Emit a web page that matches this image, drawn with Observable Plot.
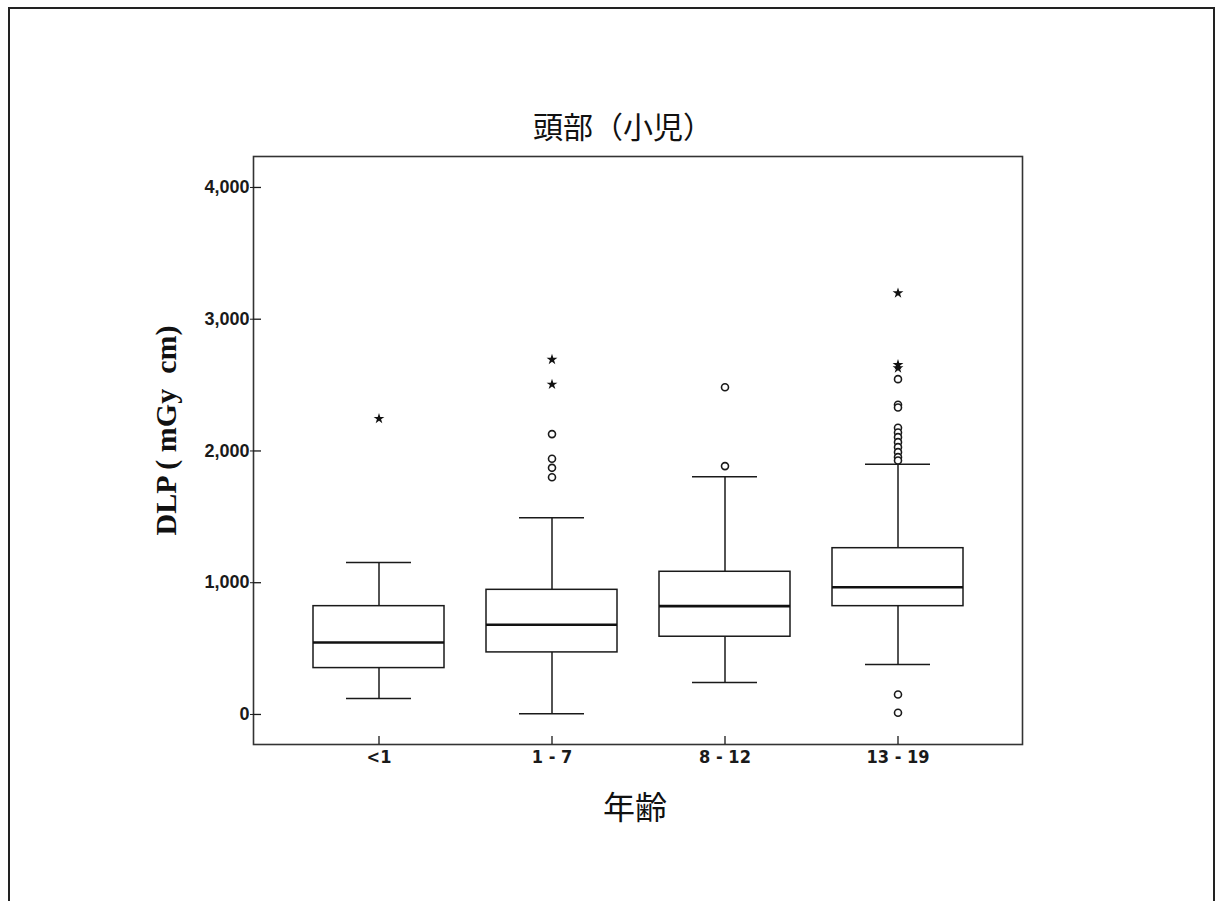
<!DOCTYPE html>
<html><head><meta charset="utf-8">
<script src="https://cdn.jsdelivr.net/npm/d3@7"></script>
<script src="https://cdn.jsdelivr.net/npm/@observablehq/plot@0.6"></script>
<style>
html,body{margin:0;padding:0;background:#fff;overflow:hidden;width:1215px;height:901px}
#chart{position:absolute;left:0;top:0}
#border{position:absolute;left:8px;top:7px;width:1203px;height:1000px;border:2px solid #222;border-bottom:none;pointer-events:none}
</style></head><body>
<div id="chart"></div><div id="border"></div>
<script>
const titleText = "頭部（小児）";
const yLabel = "DLP ( mGy  cm)";
const xLabel = "年齢";
const categories = ["<1", "1 - 7", "8 - 12", "13 - 19"];
const q1 = [352, 471, 590, 822];
const median = [546, 681, 822, 966];
const q3 = [822, 946, 1083, 1262];
const whiskerLow = [121, 5, 243, 380];
const whiskerHigh = [1154, 1493, 1804, 1900];
const yTicks = [0, 1000, 2000, 3000, 4000];
// outliers (circles) and extreme values (stars)
const circleGroup = ["1 - 7","1 - 7","1 - 7","1 - 7","8 - 12","8 - 12",
  "13 - 19","13 - 19","13 - 19","13 - 19","13 - 19","13 - 19","13 - 19","13 - 19","13 - 19","13 - 19","13 - 19","13 - 19","13 - 19"];
const circleValue = [2128, 1941, 1872, 1801, 2484, 1885,
  2545, 2351, 2330, 2176, 2140, 2105, 2067, 2029, 1991, 1953, 1928, 152, 13];
const starGroup = ["<1", "1 - 7", "1 - 7", "13 - 19", "13 - 19", "13 - 19"];
const starValue = [2245, 2694, 2505, 3198, 2654, 2629];

const boxes = categories.map((c, i) => ({group: c, q1: q1[i], med: median[i], q3: q3[i], lo: whiskerLow[i], hi: whiskerHigh[i]}));
const circles = circleGroup.map((g, i) => ({group: g, value: circleValue[i]}));
const stars = starGroup.map((g, i) => ({group: g, value: starValue[i]}));

const ink = "#1a1a1a";
const plot = Plot.plot({
  width: 1215, height: 901,
  marginLeft: 253, marginRight: 193, marginTop: 156, marginBottom: 157,
  style: {background: "transparent", color: ink, fontFamily: "Liberation Sans, Arial, sans-serif"},
  x: {type: "band", domain: categories, paddingInner: 0.243, paddingOuter: 0.344, label: null},
  y: {domain: [-228, 4235], label: null},
  marks: [
    Plot.frame({stroke: "#333", strokeWidth: 1.6}),
    Plot.ruleX(boxes, {x: "group", y1: "q3", y2: "hi", stroke: ink, strokeWidth: 1.5}),
    Plot.ruleX(boxes, {x: "group", y1: "lo", y2: "q1", stroke: ink, strokeWidth: 1.5}),
    Plot.tickY(boxes, {x: "group", y: "hi", insetLeft: 33, insetRight: 33, stroke: ink, strokeWidth: 1.5}),
    Plot.tickY(boxes, {x: "group", y: "lo", insetLeft: 33, insetRight: 33, stroke: ink, strokeWidth: 1.5}),
    Plot.barY(boxes, {x: "group", y1: "q1", y2: "q3", fill: "white", stroke: ink, strokeWidth: 1.5}),
    Plot.tickY(boxes, {x: "group", y: "med", stroke: "#111", strokeWidth: 2.6}),
    Plot.dot(circles, {x: "group", y: "value", r: 3.5, stroke: ink, strokeWidth: 1.6, fill: "white"}),
    Plot.dot(stars, {x: "group", y: "value", symbol: "star", r: 3.4, fill: "#111", stroke: "none"}),
    Plot.axisY({ticks: yTicks, tickFormat: d3.format(","), tickSize: 3, tickPadding: 1, fontSize: 18, fontWeight: "bold", label: null, stroke: ink}),
    Plot.tickY(yTicks, {y: d => d, insetRight: 761, stroke: ink, strokeWidth: 1.3}),
    Plot.axisX({tickSize: 0, tickPadding: 6, fontSize: 18, fontWeight: "bold", fontFamily: "Liberation Sans Narrow, DejaVu Sans Condensed, Liberation Sans, sans-serif", label: null}),
    Plot.tickX(categories, {x: d => d, insetTop: 580, stroke: ink, strokeWidth: 1.3}),
    Plot.text([titleText], {text: d => d, frameAnchor: "top", lineAnchor: "middle", dx: -15, dy: -28, fontSize: 30, fontFamily: "Noto Sans CJK JP", fill: "#111"}),
    Plot.text([yLabel], {text: d => d, frameAnchor: "left", textAnchor: "middle", lineAnchor: "middle", rotate: -90, dx: -87, dy: -20, fontSize: 30, fontWeight: "bold", fontFamily: "Liberation Serif, Times New Roman, serif", fill: "#111"}),
    Plot.text([xLabel], {text: d => d, frameAnchor: "bottom", lineAnchor: "middle", dx: -3, dy: 64, fontSize: 32, fontFamily: "Noto Sans CJK JP", fill: "#111"})
  ]
});
document.getElementById("chart").appendChild(plot);
</script>
</body></html>
